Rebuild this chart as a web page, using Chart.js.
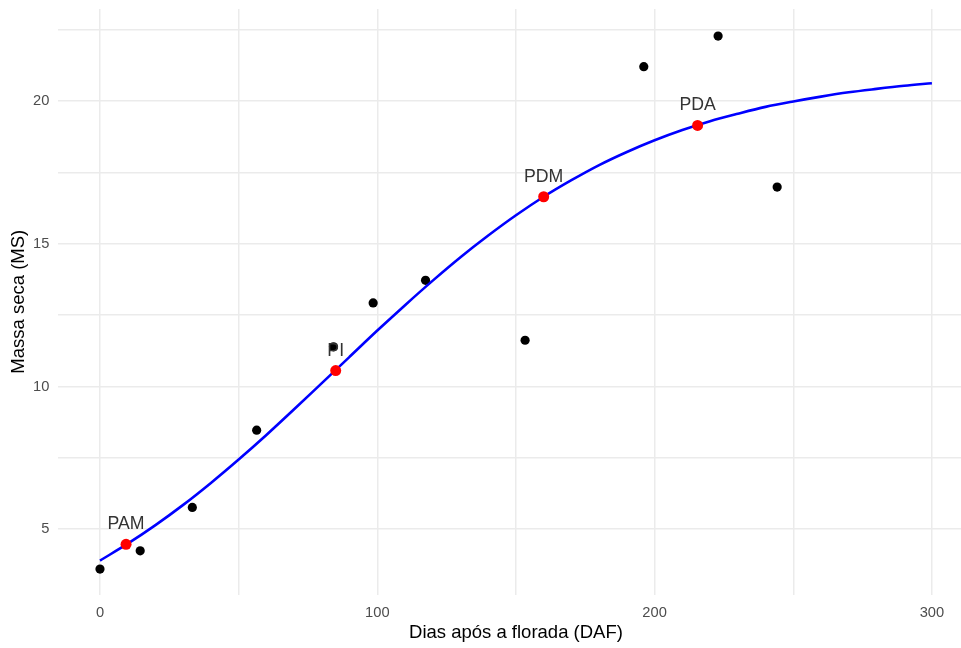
<!DOCTYPE html>
<html lang="pt">
<head>
    <meta charset="UTF-8">
    <title>Massa seca x DAF</title>
    <style>
        html, body { margin: 0; padding: 0; background: #fff; overflow: hidden; }
    </style>
</head>
<body>
    <canvas id="chart" width="979" height="648"></canvas>

    <script src="https://cdn.jsdelivr.net/npm/chart.js"></script>
    <script>
        // observed points (black)
        const obsDays = [0, 14.5, 33.3, 56.5, 84.2, 98.5, 117.4, 153.3, 196.1, 222.9, 244.2];
        const obsMass = [3.60, 4.24, 5.76, 8.47, 11.39, 12.93, 13.72, 11.62, 21.21, 22.28, 16.99];

        // fitted curve, every 10 days
        const curveDays = [0, 10, 20, 30, 40, 50, 60, 70, 80, 90, 100, 110, 120, 130, 140, 150,
                           160, 170, 180, 190, 200, 210, 220, 230, 240, 250, 260, 270, 280, 290, 300];
        const curveMass = [3.90, 4.49, 5.14, 5.85, 6.62, 7.44, 8.30, 9.20, 10.12, 11.04, 11.96,
                           12.85, 13.71, 14.53, 15.29, 16.00, 16.65, 17.23, 17.76, 18.22, 18.63,
                           18.99, 19.30, 19.56, 19.80, 19.99, 20.16, 20.31, 20.43, 20.54, 20.63];

        // critical points (red)
        const stageNames = ["PAM", "PI", "PDM", "PDA"];
        const stageDays = [9.4, 85.0, 160.0, 215.5];
        const stageMass = [4.47, 10.56, 16.65, 19.15];

        const yTicks = [5, 10, 15, 20];
        const xTicks = [0, 100, 200, 300];

        const fontFamily = "'Liberation Sans', Arial, sans-serif";

        const toXY = (xs, ys) => xs.map((x, i) => ({ x: x, y: ys[i] }));

        // draws the stage names above the red points
        const stageLabels = {
            id: "stageLabels",
            afterDatasetsDraw(chart) {
                const ctx = chart.ctx;
                const meta = chart.getDatasetMeta(0);
                ctx.save();
                ctx.font = "17.7px " + fontFamily;
                ctx.fillStyle = "#333333";
                ctx.textAlign = "center";
                ctx.textBaseline = "alphabetic";
                meta.data.forEach((pt, i) => {
                    ctx.fillText(stageNames[i], pt.x, pt.y - 15);
                });
                ctx.restore();
            }
        };

        const ctx = document.getElementById("chart").getContext("2d");
        new Chart(ctx, {
            type: "scatter",
            data: {
                datasets: [
                    {
                        label: "Estágios",
                        data: toXY(stageDays, stageMass),
                        backgroundColor: "#ff0000",
                        borderColor: "#ff0000",
                        pointRadius: 5.5,
                        borderWidth: 0
                    },
                    {
                        label: "Ajuste",
                        data: toXY(curveDays, curveMass),
                        showLine: true,
                        borderColor: "#0000ff",
                        borderWidth: 2.6,
                        pointRadius: 0,
                        cubicInterpolationMode: "monotone"
                    },
                    {
                        label: "Observado",
                        data: toXY(obsDays, obsMass),
                        backgroundColor: "#000000",
                        borderColor: "#000000",
                        pointRadius: 4.6,
                        borderWidth: 0
                    }
                ]
            },
            options: {
                responsive: false,
                animation: false,
                devicePixelRatio: 1,
                layout: { padding: { top: 9, right: 1.4, left: 0, bottom: 0 } },
                plugins: {
                    legend: { display: false },
                    tooltip: { enabled: false }
                },
                scales: {
                    x: {
                        type: "linear",
                        min: -15,
                        max: 315,
                        border: { display: false },
                        grid: { color: "#ebebeb", lineWidth: 1.5, drawTicks: false },
                        ticks: {
                            stepSize: 50,
                            includeBounds: false,
                            maxRotation: 0,
                            autoSkip: false,
                            padding: 10,
                            color: "#4d4d4d",
                            font: { family: fontFamily, size: 14.7 },
                            callback: (v) => xTicks.includes(v) ? String(v) : ""
                        },
                        title: {
                            display: true,
                            text: "Dias após a florada (DAF)",
                            color: "#000000",
                            font: { family: fontFamily, size: 18.5 },
                            padding: { top: 0, bottom: 4 }
                        },
                        afterFit: (scale) => {
                            scale.height = 53.5;
                            scale.paddingLeft = 0;
                            scale.paddingRight = 0;
                        }
                    },
                    y: {
                        type: "linear",
                        min: 2.71,
                        max: 23.23,
                        border: { display: false },
                        grid: { color: "#ebebeb", lineWidth: 1.5, drawTicks: false },
                        ticks: {
                            stepSize: 2.5,
                            includeBounds: false,
                            autoSkip: false,
                            padding: 9,
                            color: "#4d4d4d",
                            font: { family: fontFamily, size: 14.7 },
                            callback: (v) => yTicks.includes(v) ? String(v) : ""
                        },
                        title: {
                            display: true,
                            text: "Massa seca (MS)",
                            color: "#000000",
                            font: { family: fontFamily, size: 18.5 },
                            padding: { top: 8, bottom: 0 }
                        },
                        afterFit: (scale) => {
                            scale.width = 58.4;
                            scale.paddingTop = 0;
                            scale.paddingBottom = 0;
                        }
                    }
                }
            },
            plugins: [stageLabels]
        });
    </script>
</body>
</html>
